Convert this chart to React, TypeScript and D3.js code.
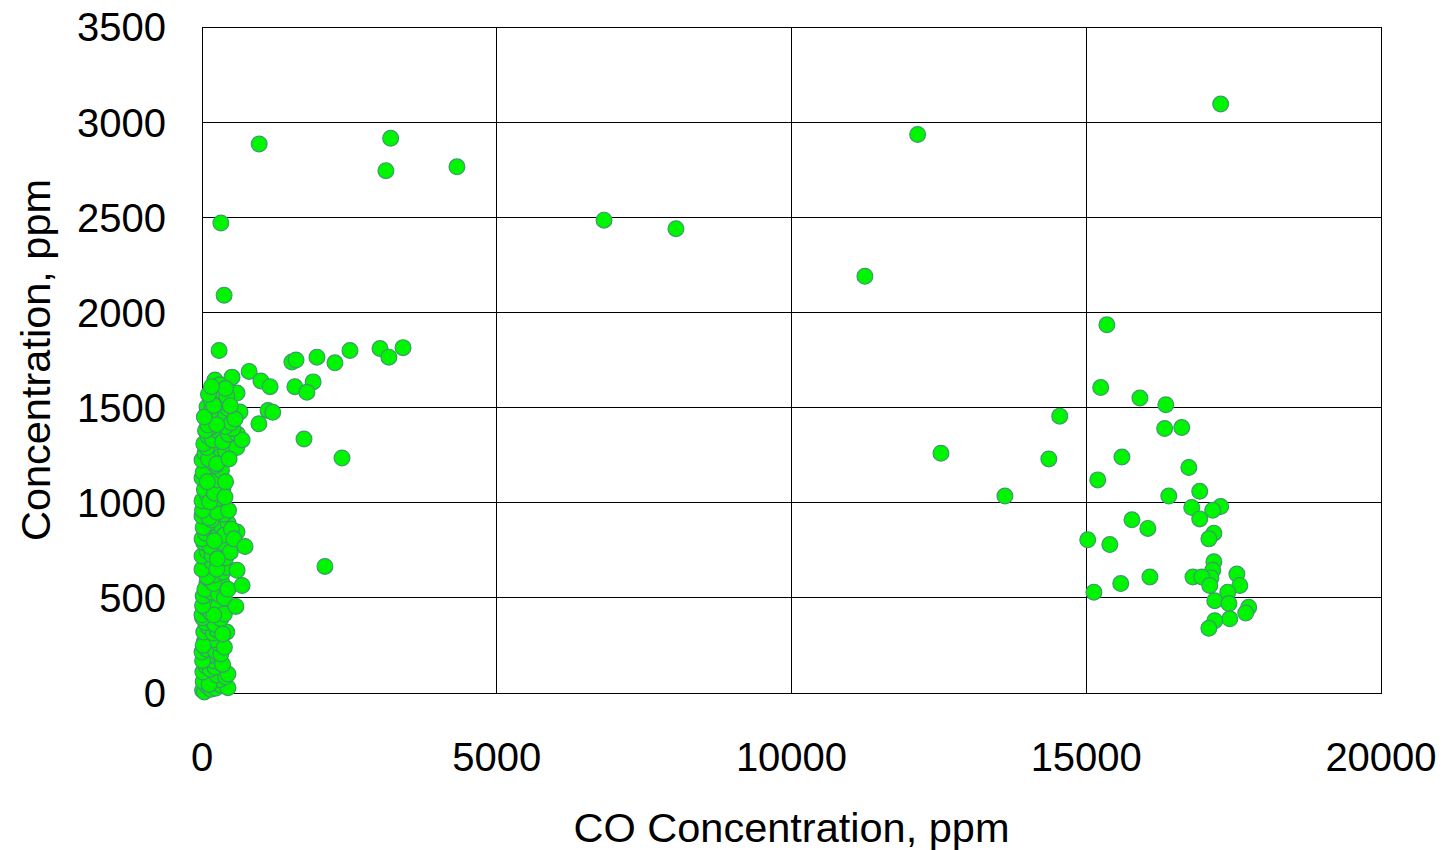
import React from "react";
import * as d3 from "d3";

// CO concentration (ppm) vs. other gas concentration (ppm)
// Dense low-CO group
const clusterCO: number[] = [
  10, 40, 90, 150, 200, 230, 330, 440, 60, 180, 300, 20, 120, 250, 400,
  15, 70, 140, 220, 300, 440, 50, 190, 260, 100, 350, 10,
  0, 80, 160, 230, 320, 40, 120, 280, 200, 380, 20,
  30, 110, 190, 260, 420, 60, 150, 220, 320, 10, 350,
  0, 70, 150, 230, 320, 40, 110, 270, 380, 200, 10,
  20, 85, 160, 240, 330, 50, 130, 280, 380, 200, 440,
  50, 130, 210, 356, 290, 90, 0, 170, 420, 250,
  0, 90, 170, 220, 300, 400, 30, 140, 350, 480, 260,
  0, 60, 170, 250, 320, 441, 593, 100, 380, 500, 20, 210, 540,
  0, 80, 160, 220, 305, 370, 40, 120, 260, 450, 10,
  0, 90, 170, 250, 356, 300, 40, 130, 210, 390,
  0, 60, 120, 187, 260, 330, 20, 230, 400, 90,
  0, 50, 170, 220, 300, 400, 525, 590, 110, 250, 80, 460,
  30, 100, 180, 260, 350, 450, 600, 680, 520, 150, 400, 60,
  100, 85, 200, 305, 380, 500, 644, 150, 250, 440, 40, 560,
  356, 237, 594, 150, 280, 420, 480, 200, 110,
  220, 509, 300, 400, 160,
];
const clusterGas: number[] = [
  15, 5, 35, 20, 55, 25, 40, 28, 80, 90, 70, 60, 45, 95, 85,
  110, 140, 125, 135, 160, 100, 185, 170, 190, 195, 150, 170,
  215, 230, 250, 220, 205, 270, 290, 260, 280, 240, 250,
  320, 345, 315, 330, 320, 370, 385, 360, 390, 395, 310,
  410, 445, 420, 470, 436, 480, 490, 455, 415, 410, 460,
  510, 578, 530, 560, 590, 545, 595, 520, 500, 575, 545,
  673, 640, 620, 636, 680, 610, 650, 690, 660, 650,
  720, 745, 725, 778, 750, 710, 790, 770, 790, 740, 705,
  810, 840, 857, 820, 880, 893, 846, 890, 830, 860, 870, 800, 810,
  930, 960, 910, 990, 998, 940, 985, 920, 950, 960, 960,
  1010, 1040, 1090, 1020, 1077, 1060, 1070, 1005, 1050, 1030,
  1130, 1180, 1150, 1146, 1120, 1170, 1160, 1195, 1110, 1110,
  1224, 1260, 1214, 1293, 1240, 1270, 1287, 1290, 1230, 1205, 1290, 1230,
  1310, 1350, 1330, 1380, 1320, 1360, 1361, 1330, 1390, 1395, 1400, 1380,
  1408, 1503, 1450, 1435, 1470, 1420, 1477, 1480, 1410, 1495, 1450, 1440,
  1529, 1571, 1576, 1540, 1590, 1560, 1510, 1510, 1570,
  1645, 1660, 1620, 1600, 1610,
];

// Spread-out readings
const sparseCO: number[] = [
  17280, 12140, 970, 3200, 3120, 4325, 6820, 8040, 320, 375, 11245,
  290, 800, 1525, 1595, 1950, 2255, 2510, 3020, 3170, 3410,
  1000, 1155, 1575, 1885, 1780, 1120, 1200, 965, 1730, 2375, 2085,
  730, 680, 595, 575,
  15350, 15245, 15910, 16350, 14550, 16330, 16620, 12535, 14365, 15605,
  15195, 16740, 13620, 16400, 16925, 16790, 17280, 17145, 16925, 15775,
  16045, 17165, 17080, 15025, 15400, 17165, 17145, 17115, 16810, 16960,
  16080, 15585, 17555, 17605, 17095, 17400, 15130, 17180, 17420, 17755,
  17705, 17435, 17180, 17080,
];
const sparseGas: number[] = [
  3095, 2935, 2885, 2915, 2745, 2765, 2485, 2440, 2470, 2090, 2190,
  1800, 1690, 1740, 1750, 1765, 1735, 1800, 1810, 1765, 1815,
  1640, 1610, 1610, 1635, 1580, 1485, 1475, 1415, 1335, 1235, 665,
  770, 565, 645, 455,
  1935, 1605, 1550, 1515, 1455, 1390, 1395, 1260, 1230, 1240,
  1120, 1185, 1035, 1035, 1060, 975, 980, 960, 915, 910,
  865, 840, 810, 805, 780, 690, 645, 605, 610, 610,
  610, 575, 625, 565, 565, 530, 530, 485, 470, 450,
  420, 390, 380, 340,
];

const xTicks: number[] = [0, 5000, 10000, 15000, 20000];
const yTicks: number[] = [0, 500, 1000, 1500, 2000, 2500, 3000, 3500];

const W = 1445;
const H = 850;
const plot = { left: 202, right: 1381, top: 27, bottom: 693 };
const FONT = "'Liberation Sans', Arial, Helvetica, sans-serif";

export default function App() {
  const x = d3.scaleLinear().domain([0, 20000]).range([plot.left, plot.right]);
  const y = d3.scaleLinear().domain([0, 3500]).range([plot.bottom, plot.top]);

  const points = [
    ...clusterCO.map((c, i) => ({ co: c, gas: clusterGas[i] })),
    ...sparseCO.map((c, i) => ({ co: c, gas: sparseGas[i] })),
  ];

  return (
    <svg
      width={W}
      height={H}
      style={{ position: "absolute", left: 0, top: 0, background: "#fff" }}
      fontFamily={FONT}
    >
      <rect x={0} y={0} width={W} height={H} fill="#fff" />
      {/* grid */}
      <g shapeRendering="crispEdges" stroke="#000" strokeWidth={1}>
        {xTicks.slice(1, -1).map((t) => (
          <line key={`gx${t}`} x1={x(t)} x2={x(t)} y1={plot.top} y2={plot.bottom} />
        ))}
        {yTicks.slice(1, -1).map((t) => (
          <line key={`gy${t}`} x1={plot.left} x2={plot.right} y1={y(t)} y2={y(t)} />
        ))}
        <rect
          x={plot.left}
          y={plot.top}
          width={plot.right - plot.left}
          height={plot.bottom - plot.top}
          fill="none"
        />
      </g>
      {/* tick labels */}
      <g fontSize={40} fill="#000">
        {yTicks.map((t) => (
          <text key={`ly${t}`} x={166} y={y(t)} dy="0.36em" textAnchor="end">
            {t}
          </text>
        ))}
        {xTicks.map((t) => (
          <text key={`lx${t}`} x={x(t)} y={771} textAnchor="middle">
            {t}
          </text>
        ))}
      </g>
      {/* axis titles */}
      <text x={(plot.left + plot.right) / 2} y={842} textAnchor="middle" fontSize={41.5}>
        CO Concentration, ppm
      </text>
      <text
        transform={`translate(50,${(plot.top + plot.bottom) / 2}) rotate(-90)`}
        textAnchor="middle"
        fontSize={41.5}
      >
        Concentration, ppm
      </text>
      {/* markers */}
      <g fill="#00f500" stroke="#3c9a6c" strokeWidth={1.2}>
        {points.map((p, i) => (
          <circle key={i} cx={x(p.co)} cy={y(p.gas)} r={7.9} />
        ))}
      </g>
    </svg>
  );
}
